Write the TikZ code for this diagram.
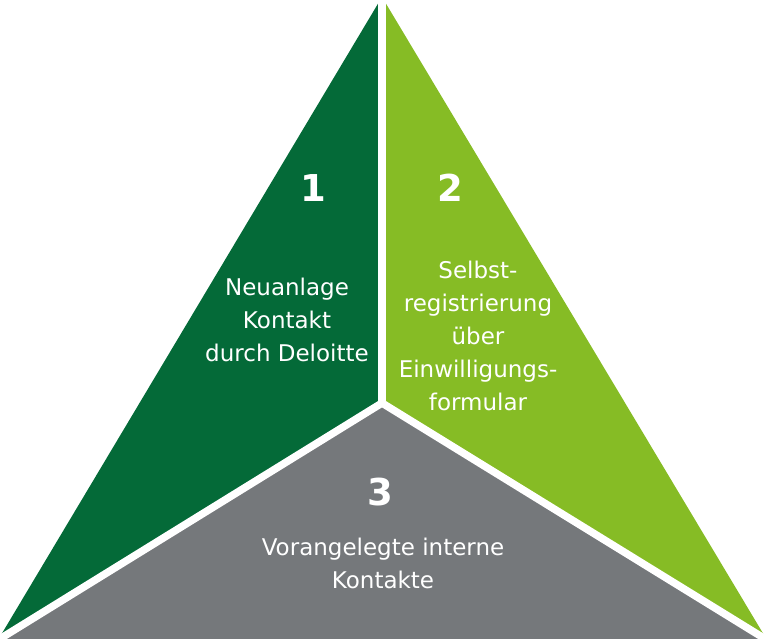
\documentclass[tikz,border=0pt]{standalone}
\usepackage{fontspec}
\setmainfont{DejaVu Sans}
\begin{document}
\begin{tikzpicture}[x=1pt,y=-1pt,
  darkgreen/.style={fill={rgb,255:red,4;green,106;blue,56}},
  lightgreen/.style={fill={rgb,255:red,134;green,188;blue,37}},
  greyfill/.style={fill={rgb,255:red,117;green,120;blue,123}},
  gap/.style={draw=white,line width=7.5pt},
  num/.style={text=white,font=\bfseries\fontsize{37}{40}\selectfont,inner sep=0pt},
  label/.style={text=white,align=center,font=\fontsize{23}{33}\selectfont,inner sep=0pt}]
  \useasboundingbox (0,0) rectangle (765,638);
  % corners of the big triangle and its inner junction
  \coordinate (apex) at (382,-3);
  \coordinate (left) at (-2,640);
  \coordinate (right) at (767,640);
  \coordinate (mid) at (382,403);
  % the three sectors
  \path[darkgreen] (apex) -- (left) -- (mid) -- cycle;
  \path[lightgreen] (apex) -- (mid) -- (right) -- cycle;
  \path[greyfill] (left) -- (right) -- (mid) -- cycle;
  % white separators
  \draw[gap] (mid) -- (apex);
  \draw[gap] (mid) -- (left);
  \draw[gap] (mid) -- (right);
  % numbers
  \node[num] (n1) at (313,188) {1};
  \node[num] (n2) at (450,188) {2};
  \node[num] (n3) at (380,492) {3};
  % descriptions
  \node[label] (t1) at (287,320) {Neuanlage\\Kontakt\\durch Deloitte};
  \node[label] (t2) at (478,336) {Selbst-\\registrierung\\über\\Einwilligungs-\\formular};
  \node[label] (t3) at (383,563) {Vorangelegte interne\\Kontakte};
\end{tikzpicture}
\end{document}
